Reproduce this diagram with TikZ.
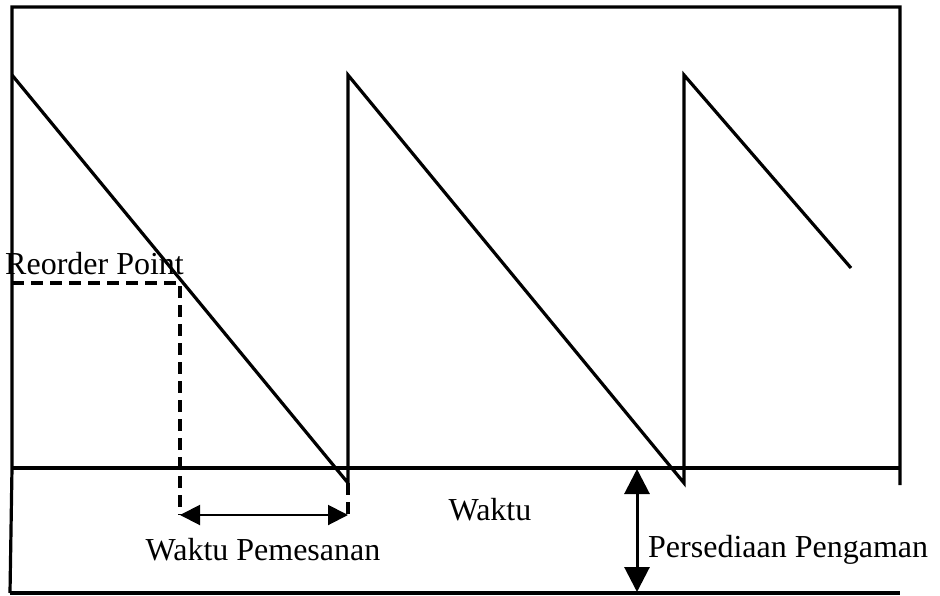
\documentclass[tikz,border=0pt]{standalone}
\usepackage{fontspec}
\setmainfont{Liberation Serif}
\usetikzlibrary{arrows.meta}
\begin{document}
\begin{tikzpicture}[x=1pt,y=-1pt,
  frame/.style={line width=3.2pt},
  saw/.style={line width=3.2pt,line join=miter},
  dash line/.style={line width=3.2pt,dash pattern=on 12pt off 7pt},
  dim/.style={line width=2pt,{Triangle[length=20pt,width=20pt]}-{Triangle[length=20pt,width=20pt]}},
  vdim/.style={line width=3pt,{Triangle[length=25pt,width=25pt]}-{Triangle[length=25pt,width=25pt]}},
  lbl/.style={font=\fontsize{32}{36}\selectfont,inner sep=0pt}]
\useasboundingbox (0,0) rectangle (940,595);
% frame
\coordinate (tl) at (12,7);
\coordinate (tr) at (900,7);
\coordinate (rb) at (900,485);
\coordinate (ml) at (12,468);
\coordinate (mr) at (900,468);
\coordinate (bl) at (10,593);
\coordinate (br) at (900,593);
\draw[frame] (bl) -- (ml) -- (tl) -- (tr) -- (rb);
\draw[frame] (ml) -- (mr);
\draw[frame] (bl) -- (br);
% sawtooth
\coordinate (s0) at (12,75);
\coordinate (b1) at (348,483);
\coordinate (t1) at (348,75);
\coordinate (b2) at (684,483);
\coordinate (t2) at (684,75);
\coordinate (e3) at (851,268);
\draw[saw] (s0) -- (b1) -- (t1) -- (b2) -- (t2) -- (e3);
% reorder point
\coordinate (r0) at (12,283);
\coordinate (r1) at (180,283);
\coordinate (r2) at (180,515);
\coordinate (q2) at (348,515);
\draw[dash line] (r0) -- (r1) -- (r2);
\draw[dash line] (b1) -- (q2);
\draw[dim] (r2) -- (q2);
% safety stock arrow
\coordinate (p1) at (637,469);
\coordinate (p2) at (637,592);
\draw[vdim] (p1) -- (p2);
% labels
\node[lbl,anchor=west] (rop) at (5,264) {Reorder Point};
\node[lbl] (wk) at (490,510) {Waktu};
\node[lbl] (wp) at (263,550) {Waktu Pemesanan};
\node[lbl,anchor=west] (pp) at (648,550) {Persediaan Pengaman};
\end{tikzpicture}
\end{document}
